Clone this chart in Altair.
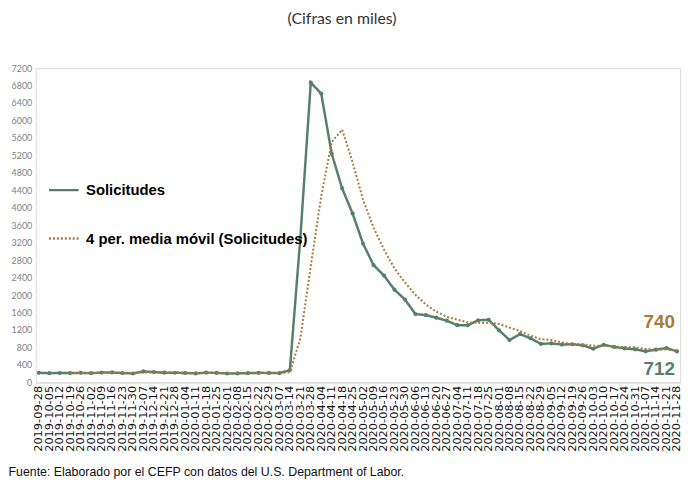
import altair as alt
import pandas as pd

fechas = [
    "2019-09-28", "2019-10-05", "2019-10-12", "2019-10-19", "2019-10-26", "2019-11-02",
    "2019-11-09", "2019-11-16", "2019-11-23", "2019-11-30", "2019-12-07", "2019-12-14",
    "2019-12-21", "2019-12-28", "2020-01-04", "2020-01-11", "2020-01-18", "2020-01-25",
    "2020-02-01", "2020-02-08", "2020-02-15", "2020-02-22", "2020-02-29", "2020-03-07",
    "2020-03-14", "2020-03-21", "2020-03-28", "2020-04-04", "2020-04-11", "2020-04-18",
    "2020-04-25", "2020-05-02", "2020-05-09", "2020-05-16", "2020-05-23", "2020-05-30",
    "2020-06-06", "2020-06-13", "2020-06-20", "2020-06-27", "2020-07-04", "2020-07-11",
    "2020-07-18", "2020-07-25", "2020-08-01", "2020-08-08", "2020-08-15", "2020-08-22",
    "2020-08-29", "2020-09-05", "2020-09-12", "2020-09-19", "2020-09-26", "2020-10-03",
    "2020-10-10", "2020-10-17", "2020-10-24", "2020-10-31", "2020-11-07", "2020-11-14",
    "2020-11-21", "2020-11-28",
]

solicitudes = [
    219, 210, 214, 212, 218, 211, 225, 227, 213, 203, 252, 235,
    222, 220, 214, 204, 223, 216, 203, 205, 211, 219, 216, 211,
    282, 3307, 6867, 6615, 5237, 4442, 3867, 3176, 2687, 2446, 2123, 1897,
    1566, 1540, 1482, 1413, 1310, 1307, 1422, 1435, 1191, 971, 1104, 1011,
    881, 893, 866, 873, 849, 770, 860, 812, 778, 757, 711, 748,
    787, 712,
]

media_movil = [
    None, None, None, 213.75, 213.5, 213.75, 216.5, 220.25, 219, 217, 223.75, 225.75,
    228, 232.25, 222.75, 215, 215.25, 214.25, 211.5, 211.75, 208.75, 209.5, 212.75, 214.25,
    232, 1004, 2666.75, 4267.75, 5506.5, 5790.25, 5040.25, 4180.5, 3543, 3044, 2608, 2288.25,
    2008, 1781.5, 1621.25, 1500.25, 1436.25, 1378, 1363, 1368.5, 1338.75, 1254.75, 1175.25, 1069.25,
    991.75, 972.25, 912.75, 878.25, 870.25, 839.5, 838, 822.75, 805, 801.75, 764.5, 748.5,
    750.75, 739.5,
]

y_ticks = [0, 400, 800, 1200, 1600, 2000, 2400, 2800, 3200, 3600, 4000, 4400,
           4800, 5200, 5600, 6000, 6400, 6800, 7200]

S1 = "Solicitudes"
S2 = "4 per. media móvil (Solicitudes)"
GREEN = "#56806d"
BROWN = "#ab7a36"

df1 = pd.DataFrame({"fecha": fechas, "valor": solicitudes, "serie": S1})
df2 = pd.DataFrame({"fecha": fechas, "valor": media_movil, "serie": S2}).dropna()

x_enc = alt.X(
    "fecha:O",
    sort=fechas,
    scale=alt.Scale(padding=0.3),
    axis=alt.Axis(
        labelAngle=270,
        labelFont="DejaVu Sans",
        labelFontSize=11.5,
        labelColor="#111111",
        labelPadding=3,
        ticks=False,
        domainColor="#d9d9d9",
        domainWidth=1.2,
        title="Fuente: Elaborado por el CEFP con datos del U.S. Department of Labor.",
        titleFont="Liberation Sans",
        titleFontSize=12.5,
        titleFontWeight="normal",
        titleColor="#111111",
        titleAnchor="start",
        titleAlign="left",
        titleBaseline="alphabetic",
        titleX=-28,
        titleY=94,
    ),
)
y_enc = alt.Y(
    "valor:Q",
    scale=alt.Scale(domain=[0, 7200], nice=False),
    axis=alt.Axis(
        values=y_ticks,
        format="d",
        grid=False,
        domain=False,
        ticks=False,
        labelFont="Lato",
        labelFontSize=9,
        labelColor="#808080",
        labelPadding=4,
        title=None,
    ),
)
color_enc = alt.Color(
    "serie:N",
    scale=alt.Scale(domain=[S1, S2], range=[GREEN, BROWN]),
    legend=alt.Legend(
        title=None,
        orient="none",
        legendX=12,
        legendY=107,
        symbolType="stroke",
        symbolSize=900,
        symbolStrokeWidth=2.5,
        labelFont="Liberation Sans",
        labelFontSize=15,
        labelFontWeight="bold",
        labelColor="#000000",
        labelLimit=0,
        rowPadding=24,
        labelOffset=6,
    ),
)
dash_enc = alt.StrokeDash(
    "serie:N",
    scale=alt.Scale(domain=[S1, S2], range=[[1, 0], [2, 2]]),
    legend=alt.Legend(title=None, orient="none", legendX=12, legendY=107),
)

line1 = alt.Chart(df1).mark_line(strokeWidth=2.5).encode(
    x=x_enc, y=y_enc, color=color_enc, strokeDash=dash_enc
)
pts1 = alt.Chart(df1).mark_circle(size=18, opacity=1, color=GREEN).encode(
    x=x_enc, y=y_enc
)
line2 = alt.Chart(df2).mark_line(strokeWidth=2).encode(
    x=x_enc, y=y_enc, color=color_enc, strokeDash=dash_enc
)

last1 = df1.tail(1).assign(lbl=lambda d: d["valor"].round().astype(int).astype(str))
last2 = df2.tail(1).assign(lbl=lambda d: d["valor"].round().astype(int).astype(str))

txt1 = alt.Chart(last1).mark_text(
    align="right", baseline="middle", dx=-2, dy=18, font="Liberation Sans",
    fontSize=19, fontWeight="bold", color=GREEN,
).encode(x=x_enc, y=y_enc, text="lbl:N")
txt2 = alt.Chart(last2).mark_text(
    align="right", baseline="middle", dx=-2, dy=-28, font="Liberation Sans",
    fontSize=19, fontWeight="bold", color=BROWN,
).encode(x=x_enc, y=y_enc, text="lbl:N")

chart = (
    alt.layer(line1, pts1, line2, txt1, txt2)
    .properties(
        width=652,
        height=318,
        title=alt.TitleParams(
            "(Cifras en miles)",
            font="Lato",
            fontSize=16,
            fontWeight="normal",
            color="#333333",
            anchor="middle",
            dx=-16,
            offset=38,
        ),
        autosize=alt.AutoSizeParams(type="none"),
        padding={"left": 28, "top": 58, "right": 4, "bottom": 96},
    )
    .configure_view(stroke=None)
    .configure(background="white")
)

chart.save("out.html", embed_options={"renderer": "svg", "actions": False})
